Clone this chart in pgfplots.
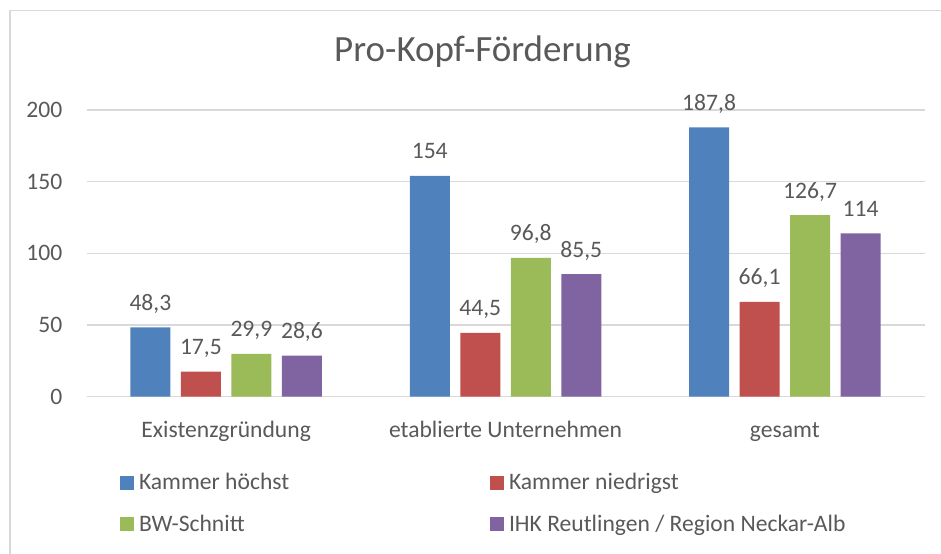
\documentclass[border=0pt]{standalone}
\usepackage{pgfplots}
\pgfplotsset{compat=1.18}
\usepackage{fontspec}
\setmainfont{Carlito}
\definecolor{txt}{HTML}{595959}
\definecolor{gridc}{HTML}{D9D9D9}
\definecolor{bordc}{HTML}{D9D9D9}
\definecolor{cA}{HTML}{4F81BD}
\definecolor{cB}{HTML}{C0504D}
\definecolor{cC}{HTML}{9BBB59}
\definecolor{cD}{HTML}{8064A2}
\newcommand\lfont{\fontsize{23.6bp}{28bp}\selectfont}
\newcommand\lstrut{\rule[-5bp]{0pt}{23bp}}
\begin{document}
\begin{tikzpicture}[x=1bp,y=1bp]
\path[use as bounding box] (0,0) rectangle (941,554);
\draw[bordc, line width=1.5bp] (10,0) -- (10,543.5) -- (941,543.5);
\node[anchor=base, inner sep=0pt, text=txt, font=\fontsize{37bp}{44bp}\selectfont] at (482.5,492) {Pro-Kopf-Förderung};
\begin{axis}[
  at={(86.5bp,157.3bp)}, anchor=south west,
  scale only axis, width=838bp, height=286.7bp,
  clip=false,
  xmin=-0.5, xmax=2.5, ymin=0, ymax=200,
  xtick={0,1,2},
  xticklabels={Existenzgründung, etablierte Unternehmen, gesamt},
  ytick={0,50,100,150,200},
  axis line style={draw=none},
  tick style={draw=none},
  major tick length=0pt,
  ymajorgrids, major grid style={color=gridc, line width=1.2bp},
  /pgf/number format/assume math mode=true,
  ticklabel style={font=\lfont, text=txt},
  yticklabel style={anchor=east, inner sep=0pt, xshift=-24bp},
  xticklabel style={anchor=base, inner sep=0pt, yshift=-41bp},
  ybar=10.5bp, bar width=40bp,
  point meta=y,
  nodes near coords={\pgfmathprintnumber[assume math mode=true,use comma,fixed,precision=1]{\pgfplotspointmeta}},
  every node near coord/.append style={font=\lfont, text=txt, anchor=base, inner sep=0pt, yshift=17bp},
  legend columns=2,
  legend cell align=left,
  legend image code/.code={\fill[#1] (0bp,-8bp) rectangle (14bp,6bp);},
  legend style={at={(axis description cs:0.03998,-0.2625)}, anchor=north west,
    draw=none, fill=none, inner sep=0pt, outer sep=0pt, font=\lfont, text=txt,
    nodes={inner sep=0pt},
    row sep=22bp,
    /tikz/every odd column/.append style={column sep=5bp}},
]
\addplot[fill=cA, draw=none] coordinates {(0,48.3) (1,154) (2,187.8)};
\addplot[fill=cB, draw=none] coordinates {(0,17.5) (1,44.5) (2,66.1)};
\addplot[fill=cC, draw=none] coordinates {(0,29.9) (1,96.8) (2,126.7)};
\addplot[fill=cD, draw=none] coordinates {(0,28.6) (1,85.5) (2,114)};
\legend{\makebox[351bp][l]{\lstrut Kammer höchst}, \lstrut Kammer niedrigst, \makebox[351bp][l]{\lstrut BW-Schnitt}, \lstrut IHK Reutlingen / Region Neckar-Alb}
\end{axis}
\end{tikzpicture}
\end{document}
